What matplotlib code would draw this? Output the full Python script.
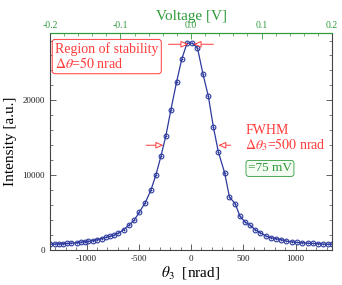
import matplotlib
matplotlib.use("Agg")
import matplotlib.pyplot as plt
from matplotlib.ticker import MultipleLocator, FormatStrFormatter

plt.rcParams['font.family'] = ['Liberation Serif', 'DejaVu Serif']
plt.rcParams['mathtext.fontset'] = 'stix'
plt.rcParams['axes.unicode_minus'] = False

# measured rocking curve
theta = [-1349, -1305, -1260, -1221, -1183, -1144, -1093, -1055, -1016, -984,
         -942, -900, -856, -814, -772, -734, -695, -644, -592, -545,
         -496, -438, -385, -337, -288, -240, -192, -138, -89, -38,
         14, 62, 115, 166, 214, 262, 322, 368, 423, 469,
         519, 567, 615, 663, 718, 769, 814, 865, 913, 962,
         1016, 1064, 1122, 1170, 1218, 1266, 1314, 1350]
intensity = [780, 790, 830, 840, 880, 920, 970, 1050, 1100, 1150,
             1240, 1370, 1520, 1700, 1850, 2000, 2250, 2700, 3350, 3950,
             5020, 6320, 7960, 9970, 12520, 15300, 18770, 22460, 25500, 27650,
             27650, 27000, 23490, 20550, 16440, 13090, 10300, 7070, 6180, 4480,
             3720, 3280, 2700, 2300, 1850, 1630, 1500, 1365, 1180, 1100,
             1000, 960, 910, 870, 830, 780, 770, 760]

xmax = 1350
vmax = 0.2
blue = '#2d3a9e'
red = '#ff3b3b'
green = '#2e9a3a'
dark = '#444444'

fig = plt.figure(figsize=(3.42, 2.85), dpi=100)
ax = fig.add_axes([0.146, 0.123, 0.825, 0.761])

ax.plot(theta, intensity, color=blue, lw=0.9, marker='o', ms=3.4,
        mfc='none', mec=blue, mew=0.8)
ax.plot(theta, intensity, ls='none', marker='+', ms=2.0, mec=blue, mew=0.6)

ax.set_xlim(-xmax, xmax)
ax.set_ylim(0, 29000)
ax.xaxis.set_major_locator(MultipleLocator(500))
ax.xaxis.set_minor_locator(MultipleLocator(100))
ax.yaxis.set_major_locator(MultipleLocator(10000))
ax.yaxis.set_minor_locator(MultipleLocator(2000))
ax.tick_params(which='both', direction='in', right=True, top=False,
               labelsize=6.5, colors=dark, labelcolor='#222222')
ax.tick_params(which='major', length=4, width=0.6)
ax.tick_params(which='minor', length=2, width=0.5)
for s in ['left', 'bottom', 'right']:
    ax.spines[s].set_color(dark)
    ax.spines[s].set_linewidth(0.8)
ax.spines['top'].set_color(green)
ax.spines['top'].set_linewidth(0.8)

ax.set_xlabel(r'$\theta_3$  [nrad]', fontsize=11, labelpad=1)
ax.set_ylabel('Intensity [a.u.]', fontsize=11, labelpad=4)

# voltage scale on top
sec = ax.secondary_xaxis('top', functions=(lambda x: x * vmax / xmax,
                                           lambda v: v * xmax / vmax))
sec.xaxis.set_major_locator(MultipleLocator(0.1))
sec.xaxis.set_minor_locator(MultipleLocator(0.02))
sec.xaxis.set_major_formatter(FormatStrFormatter('%.1f'))
sec.tick_params(which='both', direction='in', colors=green, labelsize=7,
                labelcolor=green, pad=2)
sec.tick_params(which='major', length=4, width=0.6)
sec.tick_params(which='minor', length=2, width=0.5)
sec.spines['top'].set_color(green)
sec.set_xlabel('Voltage [V]', color=green, fontsize=11, labelpad=1)

# region of stability
ax.text(0.018, 0.958, 'Region of stability\n' + r'$\Delta\theta$=$\mathit{50}$ nrad',
        transform=ax.transAxes, ha='left', va='top', color=red, fontsize=10,
        linespacing=1.0,
        bbox=dict(boxstyle='round,pad=0.2,rounding_size=0.2', fc='white',
                  ec=red, lw=0.7))
arrow_kw = dict(arrowstyle='-|>,head_length=0.45,head_width=0.2', color=red,
                lw=0.7, fc='white', shrinkA=0, shrinkB=0)
ax.annotate('', xy=(-25, 27500), xytext=(-215, 27500), arrowprops=arrow_kw)
ax.annotate('', xy=(25, 27500), xytext=(215, 27500), arrowprops=arrow_kw)

# FWHM
ax.text(520, 16900, 'FWHM\n' + r'$\Delta\theta_3$=$\mathit{500}$ nrad',
        ha='left', va='top', color=red, fontsize=10, linespacing=1.0)
ax.text(545, 10900, r'=75 mV', ha='left', va='center', color=green, fontsize=9.5,
        bbox=dict(boxstyle='round,pad=0.15,rounding_size=0.2', fc='#f4fbf2',
                  ec=green, lw=0.6))
ax.annotate('', xy=(-265, 14000), xytext=(-430, 14000), arrowprops=arrow_kw)
ax.annotate('', xy=(262, 14000), xytext=(380, 14000), arrowprops=arrow_kw)

fig.savefig('out.png', dpi=100)
